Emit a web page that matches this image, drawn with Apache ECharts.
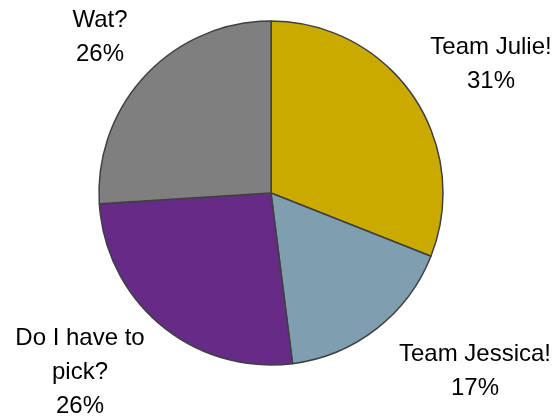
<!DOCTYPE html>
<html>
<head>
<meta charset="utf-8">
<script src="https://cdn.jsdelivr.net/npm/echarts@6/dist/echarts.min.js"></script>
<style>html,body{margin:0;padding:0;background:#fff}#c{width:560px;height:417px}</style>
</head>
<body>
<div id="c"></div>
<script>
const categories = ["Team Julie!", "Team Jessica!", "Do I have to pick?", "Wat?"];
const labelTexts = ["Team Julie!", "Team Jessica!", "Do I have to\npick?", "Wat?"];
const values = [31, 17, 26, 26];
const colors = ["#CBAA00", "#7F9EB0", "#652B86", "#7F7F7F"];
const labelPos = [[491, 64], [475, 371], [80, 372], [100, 37]];

const chart = echarts.init(document.getElementById('c'));
chart.setOption({
  animation: false,
  series: [{
    type: 'pie',
    center: [271, 193],
    radius: 172,
    startAngle: 90,
    clockwise: true,
    data: categories.map((c, i) => ({name: c, value: values[i], itemStyle: {color: colors[i]}})),
    itemStyle: {borderColor: '#404040', borderWidth: 1.5},
    label: {
      show: true,
      position: 'outside',
      overflow: 'none',
      width: 200,
      formatter: p => labelTexts[p.dataIndex] + '\n' + values[p.dataIndex] + '%',
      fontFamily: 'Liberation Sans',
      fontSize: 24,
      lineHeight: 34,
      color: '#000',
      align: 'center'
    },
    labelLine: {show: false},
    labelLayout: p => ({x: labelPos[p.dataIndex][0], y: labelPos[p.dataIndex][1], align: 'center', verticalAlign: 'middle'}),
    emphasis: {disabled: true}
  }]
});
</script>
</body>
</html>
